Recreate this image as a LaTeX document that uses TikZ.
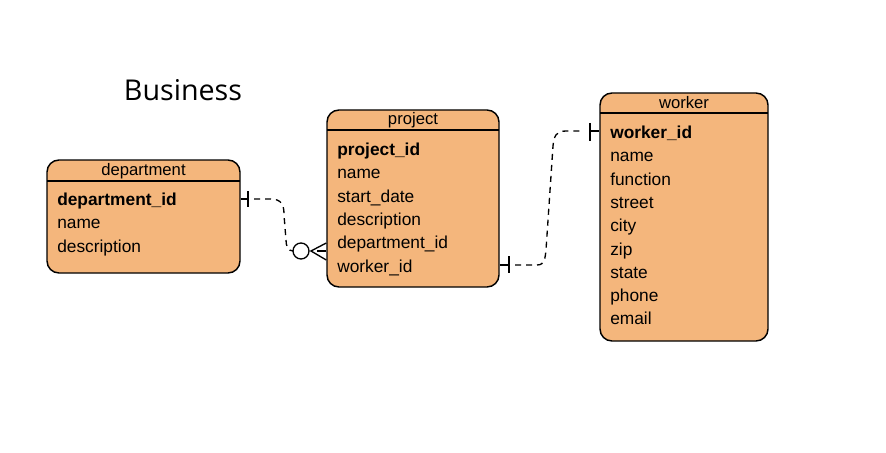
\documentclass[tikz,border=0pt]{standalone}
\usepackage{fontspec}
\setmainfont{Liberation Sans}
\newfontfamily\titlefont{Open Sans}
\usetikzlibrary{fit}
\definecolor{entityfill}{RGB}{244,182,124}

\begin{document}
\begin{tikzpicture}[x=0.75pt,y=-0.75pt,
    entity/.style={draw,line width=1.1pt,fill=entityfill,rounded corners=9pt,inner sep=0pt},
    field/.style={anchor=base west,inner sep=0pt,font=\fontsize{13pt}{15pt}\selectfont},
    keyfield/.style={field,font=\fontsize{13pt}{15pt}\selectfont\bfseries},
    header/.style={anchor=base,inner sep=0pt,font=\fontsize{12.5pt}{15pt}\selectfont},
    relline/.style={line width=1pt,dash pattern=on 4.5pt off 3.75pt},
    tickline/.style={line width=1pt}]
    \pgfmathsetmacro{\rowheight}{23.3}
    \pgfmathsetmacro{\baseshift}{5.5}
    \useasboundingbox (0,0) rectangle (886,453);
    \node[anchor=center,font=\titlefont\fontsize{21.5pt}{24pt}\selectfont] (title) at (183,90) {Business};
    % department
    \node[entity,fit={(47,160) (240,273)}] (department) {};
    \draw[line width=1.1pt] (47,181) -- (240,181);
    \node[header] (department-head) at (143.5,170+\baseshift) {department};
    \node[keyfield] (dep-id) at (57,200+\baseshift) {department\_id};
    \node[field] (dep-name) at (57,200+\rowheight+\baseshift) {name};
    \node[field] (dep-desc) at (57,200+2*\rowheight+\baseshift) {description};
    % project
    \node[entity,fit={(327,110) (499,287)}] (project) {};
    \draw[line width=1.1pt] (327,130) -- (499,130);
    \node[header] (project-head) at (413,119+\baseshift) {project};
    \node[keyfield] (proj-id) at (337,150+\baseshift) {project\_id};
    \node[field] (proj-name) at (337,150+\rowheight+\baseshift) {name};
    \node[field] (proj-start) at (337,150+2*\rowheight+\baseshift) {start\_date};
    \node[field] (proj-desc) at (337,150+3*\rowheight+\baseshift) {description};
    \node[field] (proj-dep) at (337,150+4*\rowheight+\baseshift) {department\_id};
    \node[field] (proj-worker) at (337,150+5*\rowheight+\baseshift) {worker\_id};
    % worker
    \node[entity,fit={(600,93) (768,341)}] (worker) {};
    \draw[line width=1.1pt] (600,113) -- (768,113);
    \node[header] (worker-head) at (684,103+\baseshift) {worker};
    \node[keyfield] (work-id) at (610,133+\baseshift) {worker\_id};
    \node[field] (work-name) at (610,133+\rowheight+\baseshift) {name};
    \node[field] (work-func) at (610,133+2*\rowheight+\baseshift) {function};
    \node[field] (work-street) at (610,133+3*\rowheight+\baseshift) {street};
    \node[field] (work-city) at (610,133+4*\rowheight+\baseshift) {city};
    \node[field] (work-zip) at (610,133+5*\rowheight+\baseshift) {zip};
    \node[field] (work-state) at (610,133+6*\rowheight+\baseshift) {state};
    \node[field] (work-phone) at (610,133+7*\rowheight+\baseshift) {phone};
    \node[field] (work-email) at (610,133+8*\rowheight+\baseshift) {email};
    % department -- project
    \draw[tickline] (department.east |- 0,199) -- (248,199);
    \draw[tickline] (248,191) -- (248,207);
    \draw[relline] (254,199) -- (270,199) .. controls (282,199) and (284,205) .. (284,215)
        -- (286,240) .. controls (286,246) and (288,251) .. (293,251);
    \draw[tickline] (301,251) circle (8);
    \draw[tickline] (project.west |- 0,243) -- (311,251) -- (project.west |- 0,260);
    \draw[tickline] (317,251) -- (project.west |- 0,251);
    % project -- worker
    \draw[tickline] (project.east |- 0,265) -- (509,265);
    \draw[tickline] (509,256) -- (509,273);
    \draw[relline] (515,265) -- (537,265) .. controls (545,265) and (545,258) .. (546,250)
        -- (553,146) .. controls (554,136) and (556,131) .. (566,131) -- (584,131);
    \draw[tickline] (590,123) -- (590,141);
    \draw[tickline] (590,131) -- (worker.west |- 0,131);
\end{tikzpicture}
\end{document}
